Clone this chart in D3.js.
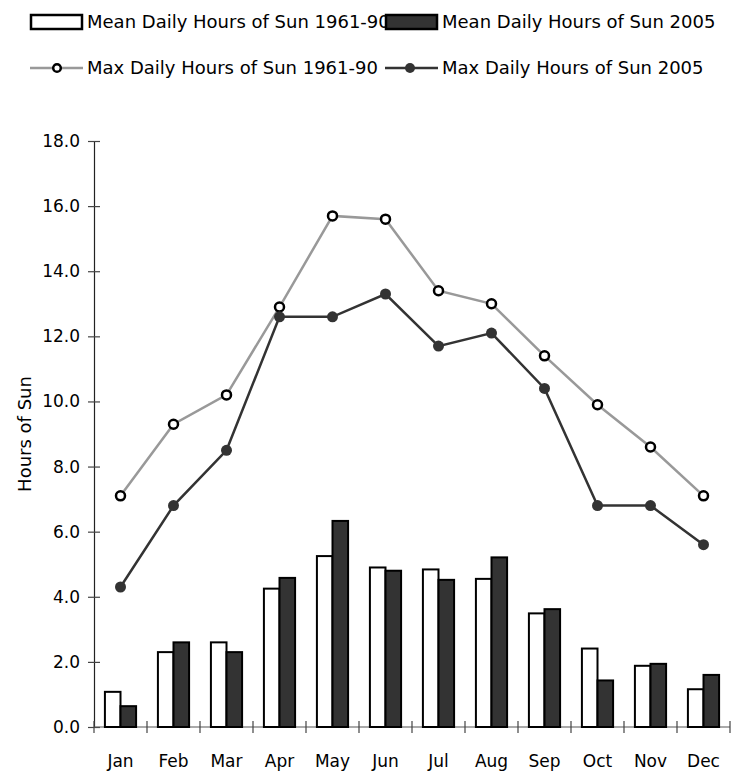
<!DOCTYPE html>
<html>
<head>
<meta charset="utf-8">
<script src="https://d3js.org/d3.v7.min.js"></script>
<style>
  body { margin: 0; background: #fff; }
  svg text { font-family: "Comic Sans MS", "DejaVu Sans", sans-serif; fill: #000; }
</style>
</head>
<body>
<svg></svg>
<script>
const width = 739;
const height = 771;

const months = ["Jan", "Feb", "Mar", "Apr", "May", "Jun", "Jul", "Aug", "Sep", "Oct", "Nov", "Dec"];
const meanOld = [1.08, 2.30, 2.60, 4.25, 5.25, 4.90, 4.84, 4.55, 3.49, 2.41, 1.88, 1.16];
const meanNew = [0.64, 2.60, 2.30, 4.58, 6.33, 4.80, 4.52, 5.21, 3.62, 1.43, 1.94, 1.60];
const maxOld = [7.1, 9.3, 10.2, 12.9, 15.7, 15.6, 13.4, 13.0, 11.4, 9.9, 8.6, 7.1];
const maxNew = [4.3, 6.8, 8.5, 12.6, 12.6, 13.3, 11.7, 12.1, 10.4, 6.8, 6.8, 5.6];
const yTicks = [0, 2, 4, 6, 8, 10, 12, 14, 16, 18];

const margin = { top: 141, right: 9, bottom: 44, left: 94 };

const svg = d3.select('svg')
  .attr('width', width)
  .attr('height', height);

const x = d3.scaleBand()
  .domain(months)
  .range([margin.left, width - margin.right]);

const x2 = d3.scaleBand()
  .domain(["old", "new"])
  .range([0, x.bandwidth()])
  .paddingInner(0)
  .paddingOuter(0.7);

const y = d3.scaleLinear()
  .domain([0, 18])
  .range([height - margin.bottom, margin.top]);

// y axis
const yAxis = svg.append('g')
  .attr('transform', `translate(${margin.left},0)`)
  .call(d3.axisLeft(y).tickValues(yTicks).tickFormat(d3.format('.1f')).tickSize(6).tickPadding(8));
yAxis.select('.domain').attr('stroke', '#222').attr('stroke-width', 1.2);
yAxis.selectAll('.tick line').attr('x2', 6).attr('x1', -6).attr('stroke', '#444').attr('stroke-width', 1.2);
yAxis.selectAll('.tick text').style('font-size', '17px');

// x axis
const boundaries = months.map(m => x(m)).concat([x.range()[1]]);
const xg = svg.append('g');
xg.append('line')
  .attr('x1', x.range()[0]).attr('x2', x.range()[1])
  .attr('y1', y(0)).attr('y2', y(0))
  .attr('stroke', '#555').attr('stroke-width', 1.2);
xg.selectAll('.xtick')
  .data(boundaries)
  .enter().append('line')
  .attr('class', 'xtick')
  .attr('x1', d => d).attr('x2', d => d)
  .attr('y1', y(0) - 6).attr('y2', y(0) + 6)
  .attr('stroke', '#444').attr('stroke-width', 1.2);
xg.selectAll('.xlabel')
  .data(months)
  .enter().append('text')
  .attr('class', 'xlabel')
  .attr('x', d => x(d) + x.bandwidth() / 2)
  .attr('y', y(0) + 40)
  .attr('text-anchor', 'middle')
  .style('font-size', '17px')
  .text(d => d);

// y title
svg.append('text')
  .attr('transform', `translate(31,${(y(0) + y(18)) / 2}) rotate(-90)`)
  .attr('text-anchor', 'middle')
  .style('font-size', '18px')
  .text('Hours of Sun');

// bars
const barGroup = svg.append('g');
months.forEach((m, i) => {
  barGroup.append('rect')
    .attr('x', x(m) + x2('old'))
    .attr('y', y(meanOld[i]))
    .attr('width', x2.bandwidth())
    .attr('height', y(0) - y(meanOld[i]))
    .attr('fill', '#fff')
    .attr('stroke', '#000')
    .attr('stroke-width', 2);
  barGroup.append('rect')
    .attr('x', x(m) + x2('new'))
    .attr('y', y(meanNew[i]))
    .attr('width', x2.bandwidth())
    .attr('height', y(0) - y(meanNew[i]))
    .attr('fill', '#333')
    .attr('stroke', '#000')
    .attr('stroke-width', 2);
});

// lines
const line = d3.line()
  .x((d, i) => x(months[i]) + x.bandwidth() / 2)
  .y(d => y(d));

svg.append('path')
  .datum(maxOld)
  .attr('d', line)
  .attr('fill', 'none')
  .attr('stroke', '#999')
  .attr('stroke-width', 2.5);

svg.append('path')
  .datum(maxNew)
  .attr('d', line)
  .attr('fill', 'none')
  .attr('stroke', '#333')
  .attr('stroke-width', 2.5);

svg.selectAll('.dotOld')
  .data(maxOld)
  .enter().append('circle')
  .attr('class', 'dotOld')
  .attr('cx', (d, i) => x(months[i]) + x.bandwidth() / 2)
  .attr('cy', d => y(d))
  .attr('r', 4.5)
  .attr('fill', '#fff')
  .attr('stroke', '#000')
  .attr('stroke-width', 2.5);

svg.selectAll('.dotNew')
  .data(maxNew)
  .enter().append('circle')
  .attr('class', 'dotNew')
  .attr('cx', (d, i) => x(months[i]) + x.bandwidth() / 2)
  .attr('cy', d => y(d))
  .attr('r', 5.5)
  .attr('fill', '#333');

// legend
const legend = svg.append('g');
const legendItems = [
  { label: 'Mean Daily Hours of Sun 1961-90', kind: 'bar', fill: '#fff', x: 30, y: 22 },
  { label: 'Max Daily Hours of Sun 1961-90', kind: 'line', stroke: '#999', mfill: '#fff', x: 30, y: 68 },
  { label: 'Mean Daily Hours of Sun 2005', kind: 'bar', fill: '#333', x: 385, y: 22 },
  { label: 'Max Daily Hours of Sun 2005', kind: 'line', stroke: '#333', mfill: '#333', x: 385, y: 68 }
];
legendItems.forEach(it => {
  const g = legend.append('g').attr('transform', `translate(${it.x},${it.y})`);
  if (it.kind === 'bar') {
    g.append('rect')
      .attr('x', 1).attr('y', -7)
      .attr('width', 51).attr('height', 14)
      .attr('fill', it.fill)
      .attr('stroke', '#000')
      .attr('stroke-width', 2.5);
  } else {
    g.append('line')
      .attr('x1', 0).attr('x2', 53)
      .attr('stroke', it.stroke).attr('stroke-width', 2.5);
    g.append('circle')
      .attr('cx', it.mfill === '#fff' ? 27 : 25).attr('r', it.mfill === '#fff' ? 3.8 : 5)
      .attr('fill', it.mfill)
      .attr('stroke', it.mfill === '#fff' ? '#000' : 'none')
      .attr('stroke-width', 2.5);
  }
  g.append('text')
    .attr('x', 57)
    .attr('dy', '0.35em')
    .style('font-size', '18px')
    .text(it.label);
});
</script>
</body>
</html>
